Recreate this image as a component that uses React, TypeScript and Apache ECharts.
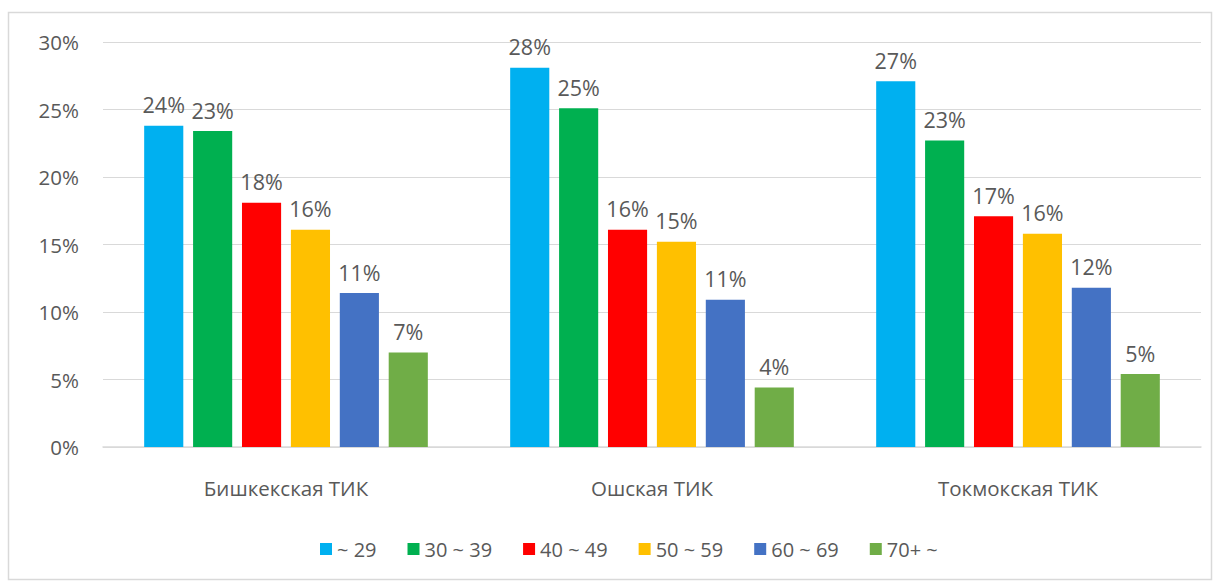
import React, { useEffect, useRef } from "react";
import * as echarts from "echarts";

const categories = ["Бишкекская ТИК", "Ошская ТИК", "Токмокская ТИК"];
const seriesNames = ["~ 29", "30 ~ 39", "40 ~ 49", "50 ~ 59", "60 ~ 69", "70+ ~"];
const colors = ["#00b0f0", "#00b050", "#ff0000", "#ffc000", "#4472c4", "#70ad47"];
const age29 = [23.8, 28.1, 27.1];
const age30 = [23.4, 25.1, 22.7];
const age40 = [18.1, 16.1, 17.1];
const age50 = [16.1, 15.2, 15.8];
const age60 = [11.4, 10.9, 11.8];
const age70 = [7.0, 4.4, 5.4];
const seriesValues = [age29, age30, age40, age50, age60, age70];

const FONT = "'Open Sans', 'Noto Sans', sans-serif";

export default function App() {
  const ref = useRef<HTMLDivElement>(null);
  useEffect(() => {
    const chart = echarts.init(ref.current!, null, { renderer: "svg" });
    chart.setOption({
      animation: false,
      backgroundColor: "#ffffff",
      graphic: [
        {
          type: "rect",
          shape: { x: 8.5, y: 12.5, width: 1203, height: 567 },
          style: { fill: "none", stroke: "#d9d9d9", lineWidth: 1.5 },
          silent: true,
        },
      ],
      grid: { left: 103, right: 18, top: 42, bottom: 137, containLabel: false },
      legend: {
        bottom: 20,
        left: 315,
        itemWidth: 12,
        itemHeight: 12,
        itemGap: 31,
        icon: "rect",
        textStyle: { color: "#595959", fontSize: 20, fontFamily: FONT },
        data: seriesNames,
      },
      xAxis: {
        type: "category",
        data: categories,
        axisTick: { show: false },
        axisLine: { lineStyle: { color: "#d9d9d9", width: 1.5 } },
        axisLabel: { color: "#595959", fontSize: 20.5, fontFamily: FONT, margin: 30 },
      },
      yAxis: {
        type: "value",
        min: 0,
        max: 30,
        interval: 5,
        axisLabel: { color: "#595959", fontSize: 20.5, fontFamily: FONT, formatter: "{value}%", margin: 24 },
        splitLine: { lineStyle: { color: "#d9d9d9", width: 1 } },
        axisLine: { show: false },
        axisTick: { show: false },
      },
      series: seriesNames.map((name, i) => ({
        name,
        type: "bar",
        data: seriesValues[i],
        barGap: "25%",
        barCategoryGap: "22.5%",
        itemStyle: { color: colors[i] },
        label: {
          show: true,
          position: "top",
          distance: 10,
          color: "#595959",
          fontSize: 21.5,
          fontFamily: FONT,
          formatter: (p: any) => Math.round(p.value) + "%",
        },
      })),
    });
    return () => chart.dispose();
  }, []);
  return (
    <div
      ref={ref}
      style={{ position: "absolute", left: 0, top: 0, width: 1219, height: 584 }}
    />
  );
}
